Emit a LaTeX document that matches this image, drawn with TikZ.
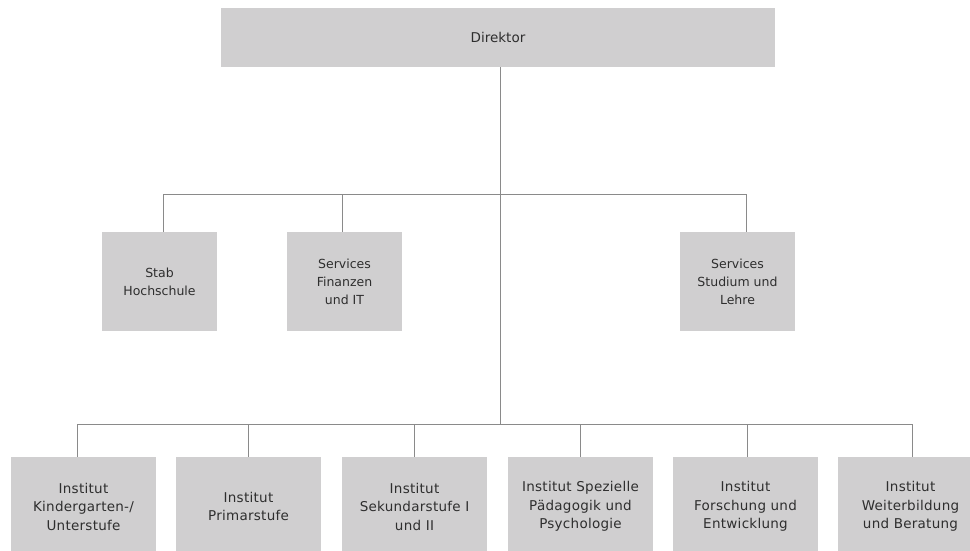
\documentclass[tikz,border=0pt]{standalone}
\usepackage{fontspec}
\setmainfont{DejaVu Sans}
\definecolor{boxgray}{HTML}{D0CFD0}
\definecolor{linegray}{HTML}{8A8A8A}
\definecolor{txt}{HTML}{2E2E2E}
\begin{document}
\begin{tikzpicture}[x=1pt,y=-1pt,
  orgbox/.style={fill=boxgray, draw=none, align=center, text=txt, inner sep=0pt},
  headbox/.style={orgbox, font=\fontsize{13.5}{18}\selectfont},
  small/.style={orgbox, minimum width=115, minimum height=99,
    font=\fontsize{12.5}{18}\selectfont},
  inst/.style={orgbox, minimum width=145, minimum height=99,
    font=\fontsize{13.5}{18.5}\selectfont\addfontfeatures{LetterSpace=2}},
  conn/.style={draw=linegray, line width=0.9pt}]
\useasboundingbox (0,0) rectangle (970,551);
\clip (0,0) rectangle (970,551);

% top level
\node[headbox, minimum width=554, minimum height=59] (dir) at (498,37.5) {Direktor};

% staff and services
\node[small] (stab) at (159.5,281.5) {Stab\\Hochschule};
\node[small] (fin)  at (344.5,281.5) {Services\\Finanzen\\und IT};
\node[small] (stud) at (737.5,281.5) {Services\\Studium und\\Lehre};

% institutes
\node[inst] (kg)  at (83.5,506.5)  {Institut\\Kindergarten-/\\Unterstufe};
\node[inst] (pri) at (248.5,506.5) {Institut\\Primarstufe};
\node[inst] (sek) at (414.5,506.5) {Institut\\Sekundarstufe I\\und II};
\node[inst] (sp)  at (580.5,506.5) {Institut Spezielle\\Pädagogik und\\Psychologie};
\node[inst] (fe)  at (745.5,506.5) {Institut\\Forschung und\\Entwicklung};
\node[inst] (wb)  at (910.5,506.5) {Institut\\Weiterbildung\\und Beratung};

% bus lines
\coordinate (upbus) at (500,194);
\coordinate (lowbus) at (500,424);

\draw[conn] ([xshift=2pt]dir.south) -- (lowbus);
\draw[conn] ([xshift=3.5pt]stab.north) |- (upbus);
\draw[conn] ([xshift=-2.5pt]fin.north) |- (upbus);
\draw[conn] ([xshift=9pt]stud.north) |- (upbus);

\draw[conn] ([xshift=-6.5pt]kg.north) |- (lowbus);
\draw[conn] (pri.north) |- (lowbus);
\draw[conn] (sek.north) |- (lowbus);
\draw[conn] (sp.north) |- (lowbus);
\draw[conn] ([xshift=1.5pt]fe.north) |- (lowbus);
\draw[conn] ([xshift=1.5pt]wb.north) |- (lowbus);
\end{tikzpicture}
\end{document}
